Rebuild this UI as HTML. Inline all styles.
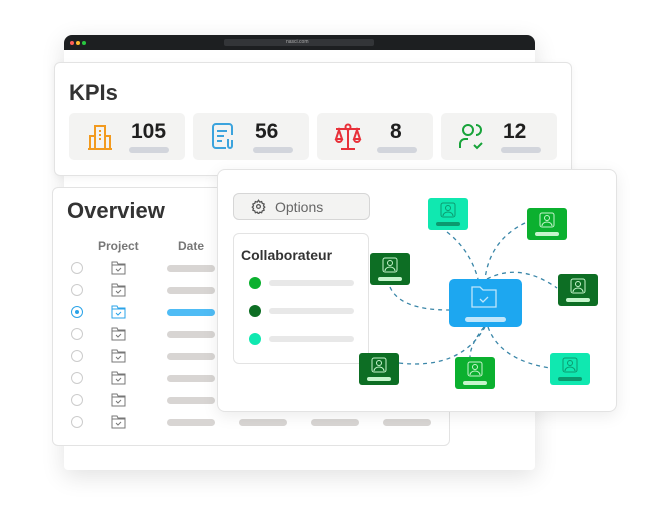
<!DOCTYPE html>
<html><head><meta charset="utf-8"><style>
*{margin:0;padding:0;box-sizing:border-box}
body{width:653px;height:531px;background:#fff;position:relative;overflow:hidden;font-family:"Liberation Sans",sans-serif;color:#2b2b2b}
.a{position:absolute}
.card{position:absolute;background:#fff;border:1px solid #e3e3e3;border-radius:6px}
.tile{position:absolute;top:113px;width:116px;height:47px;background:#f3f3f2;border-radius:5px}
.tile .n{position:absolute;left:62px;top:7px;font-size:21px;font-weight:bold;color:#1f1f1f}
.tile .b{position:absolute;left:60px;top:34px;width:40px;height:6px;border-radius:3px;background:#d2d5dc}
.tile svg{position:absolute;left:16px;top:9px}
.bar{position:absolute;height:7px;width:48px;border-radius:4px;background:#d8d5d3}
.radio{position:absolute;width:12px;height:12px;border:1px solid #ccc;border-radius:50%}
</style></head><body>
<!-- browser window -->
<div class="a" style="left:64px;top:35px;width:471px;height:435px;background:#fff;border-radius:8px 8px 4px 4px;box-shadow:0 6px 24px rgba(0,0,0,.12)"></div>
<div class="a" style="left:64px;top:35px;width:471px;height:15px;background:#1d1f21;border-radius:8px 8px 0 0"></div>
<div class="a" style="left:70px;top:41px;width:4px;height:4px;border-radius:50%;background:#ff5f57"></div>
<div class="a" style="left:76px;top:41px;width:4px;height:4px;border-radius:50%;background:#febc2e"></div>
<div class="a" style="left:82px;top:41px;width:4px;height:4px;border-radius:50%;background:#28c840"></div>
<div class="a" style="left:224px;top:39px;width:150px;height:7px;border-radius:2px;background:#333538"></div>
<div class="a" style="left:286px;top:39px;font-size:5px;color:#aaa">nasci.com</div>

<!-- KPI card -->
<div class="card" style="left:54px;top:62px;width:518px;height:114px;box-shadow:0 2px 8px rgba(0,0,0,.05)"></div>
<div class="a" style="left:69px;top:80px;font-size:22px;font-weight:bold;color:#333">KPIs</div>
<div class="tile" style="left:69px"><svg width="30" height="30" viewBox="0 0 30 30" fill="none" stroke="#f29a1f" stroke-width="2"><path d="M3 27h24M10 27V4h10v23M5 27V14h5M20 14h5v13M14 9h2M14 13h2M14 17h2"/></svg><div class="n">105</div><div class="b"></div></div>
<div class="tile" style="left:193px"><svg width="30" height="30" viewBox="0 0 30 30" fill="none" stroke="#3ba3dd" stroke-width="2"><path d="M17 26H7a3 3 0 0 1-3-3V5a3 3 0 0 1 3-3h13a3 3 0 0 1 3 3v8M8 9h10M8 14h7M8 19h5M19 17v7a2 2 0 0 0 4 0v-6"/></svg><div class="n">56</div><div class="b"></div></div>
<div class="tile" style="left:317px"><svg width="30" height="30" viewBox="0 0 30 30" fill="none" stroke="#e8313a" stroke-width="2"><circle cx="15" cy="5" r="2.5"/><path d="M3 7h24M15 8v18M8 27h14M6 8l-3 9h6zM24 8l-3 9h6zM3 17a3 3 0 0 0 6 0M21 17a3 3 0 0 0 6 0"/></svg><div class="n" style="left:73px">8</div><div class="b"></div></div>
<div class="tile" style="left:441px"><svg width="30" height="30" viewBox="0 0 30 30" fill="none" stroke="#17a33a" stroke-width="2"><circle cx="11" cy="8" r="5"/><path d="M19 3a5 5 0 0 1 0 10M3 26v-4a5 5 0 0 1 5-5h3M17 23l3 3 5-5"/></svg><div class="n">12</div><div class="b"></div></div>

<!-- Overview card -->
<div class="card" style="left:52px;top:187px;width:398px;height:259px"></div>
<div class="a" style="left:67px;top:198px;font-size:22px;font-weight:bold;color:#333">Overview</div>
<div class="a" style="left:98px;top:239px;font-size:12px;font-weight:bold;color:#777">Project</div>
<div class="a" style="left:178px;top:239px;font-size:12px;font-weight:bold;color:#777">Date</div>
<div id="rows"></div>

<!-- Diagram card -->
<div class="card" style="left:217px;top:169px;width:400px;height:243px;border-radius:8px;box-shadow:0 4px 16px rgba(0,0,0,.08)"></div>
<div class="a" style="left:233px;top:193px;width:137px;height:27px;border:1px solid #d6d6d6;border-radius:6px;background:#f3f3f2"></div>
<svg class="a" style="left:251px;top:199px" width="15" height="15" viewBox="0 0 24 24" fill="none" stroke="#555" stroke-width="2"><circle cx="12" cy="12" r="3"/><path d="M12 2l2 3 3-1 1 3 3 1-1 3 2 2-2 2 1 3-3 1-1 3-3-1-2 3-2-3-3 1-1-3-3-1 1-3-2-2 2-2-1-3 3-1 1-3 3 1z"/></svg>
<div class="a" style="left:275px;top:199px;font-size:14px;color:#666">Options</div>
<div class="a" style="left:233px;top:233px;width:136px;height:131px;border:1px solid #e3e3e3;border-radius:6px;background:#fff"></div>
<div class="a" style="left:241px;top:247px;font-size:14px;font-weight:bold;color:#333">Collaborateur</div>
<div class="a" style="left:249px;top:277px;width:12px;height:12px;border-radius:50%;background:#0bb02f"></div>
<div class="a" style="left:249px;top:305px;width:12px;height:12px;border-radius:50%;background:#0d6e24"></div>
<div class="a" style="left:249px;top:333px;width:12px;height:12px;border-radius:50%;background:#10e8b0"></div>
<div class="a" style="left:269px;top:280px;width:85px;height:6px;border-radius:3px;background:#e8e8e8"></div>
<div class="a" style="left:269px;top:308px;width:85px;height:6px;border-radius:3px;background:#e8e8e8"></div>
<div class="a" style="left:269px;top:336px;width:85px;height:6px;border-radius:3px;background:#e8e8e8"></div>

<svg class="a" style="left:0;top:0" width="653" height="531" fill="none">
<g stroke="#3a86a8" stroke-width="1.3" stroke-dasharray="4 4">
<path d="M447 232 Q470 250 478 279"/>
<path d="M525 223 Q490 240 485 279"/>
<path d="M390 287 Q400 310 449 310"/>
<path d="M487 279 Q520 262 557 288"/>
<path d="M399 363 Q460 370 485 327"/>
<path d="M484 327 Q470 345 470 357"/>
<path d="M488 327 Q500 360 550 368"/>
</g>
<rect x="449" y="279" width="73" height="48" rx="5" fill="#1da7f0"/>
<g stroke="#bfe6fb" stroke-width="1.3"><path d="M472 287h8l3 3h13v17h-24z"/><path d="M480 299l3 3 5-5"/></g>
<rect x="465" y="317" width="41" height="5" rx="2.5" fill="#bfe6fb"/>
<g id="nodes"></g>
</svg>
<script>
var r=document.getElementById('rows'),h='';
[268,290,312,334,356,378,400,422].forEach(function(y,i){
 var sel=i==2;
 h+='<div class="radio" style="left:71px;top:'+(y-6)+'px;'+(sel?'border-color:#2aa3e8':'')+'">'+(sel?'<div style="position:absolute;left:3px;top:3px;width:4px;height:4px;border-radius:50%;background:#2aa3e8"></div>':'')+'</div>';
 var c=sel?'#2aa3e8':'#777';
 h+='<svg class="a" style="left:111px;top:'+(y-7)+'px" width="15" height="14" viewBox="0 0 15 14" fill="none" stroke="'+c+'" stroke-width="1"><path d="M1 1h5l1 2h7v10H1z M1 4h13"/><path d="M5 8l2 2 3-3"/></svg>';
 h+='<div class="bar" style="left:167px;top:'+(y-3)+'px;'+(sel?'background:#4fbcf5':'')+'"></div>';
 if(i==7){h+='<div class="bar" style="left:239px;top:'+(y-3)+'px"></div><div class="bar" style="left:311px;top:'+(y-3)+'px"></div><div class="bar" style="left:383px;top:'+(y-3)+'px"></div>';}
});
r.innerHTML=h;
var N=[[428,198,'#10e8b0','#0b9a6f'],[527,208,'#0bb02f','#c6f5cc'],[370,253,'#0d6e24','#c6f5cc'],[558,274,'#0d6e24','#c6f5cc'],[359,353,'#0d6e24','#c6f5cc'],[455,357,'#0bb02f','#c6f5cc'],[550,353,'#10e8b0','#0b9a6f']],s='';
N.forEach(function(n){var x=n[0],y=n[1];
s+='<rect x="'+x+'" y="'+y+'" width="40" height="32" rx="3" fill="'+n[2]+'"/>';
s+='<rect x="'+(x+13)+'" y="'+(y+5)+'" width="14" height="14" rx="2" stroke="'+n[3]+'" stroke-width="1"/>';
s+='<circle cx="'+(x+20)+'" cy="'+(y+10)+'" r="2.5" stroke="'+n[3]+'" stroke-width="1"/>';
s+='<path d="M'+(x+15)+' '+(y+18)+'a5 4 0 0 1 10 0" stroke="'+n[3]+'" stroke-width="1"/>';
s+='<rect x="'+(x+8)+'" y="'+(y+24)+'" width="24" height="4" rx="2" fill="'+n[3]+'"/>';});
document.getElementById('nodes').innerHTML=s;
</script>
</body></html>
